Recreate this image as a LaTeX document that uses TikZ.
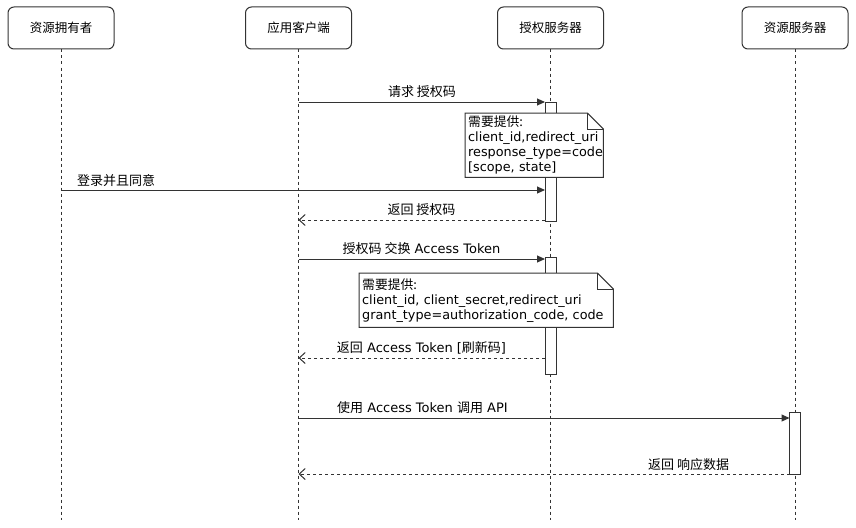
\documentclass[tikz,border=0pt]{standalone}
\usepackage{fontspec}
\setmainfont{DejaVu Sans}
\newfontfamily\cjk{Noto Sans CJK SC}
\usetikzlibrary{arrows.meta,calc}
\definecolor{ln}{HTML}{333333}
\begin{document}
\begin{tikzpicture}[x=1pt,y=-1pt,
  actor/.style={draw=ln, line width=1pt, rounded corners=6pt, fill=white,
    minimum width=106pt, minimum height=42pt, inner sep=0pt,
    font=\cjk\fontsize{12.5}{15}\selectfont},
  life/.style={draw=ln, line width=1pt, dash pattern=on 3pt off 3pt},
  actbar/.style={draw=ln, fill=white, line width=1pt, minimum width=11pt, inner sep=0pt},
  msg/.style={draw=ln, line width=1pt, -{Triangle[length=8pt,width=7pt]}},
  ret/.style={draw=ln, line width=1pt, dash pattern=on 3pt off 3pt,
    -{Straight Barb[length=6pt,width=11pt,line width=1pt]}},
  lbl/.style={inner sep=0pt, font=\fontsize{13}{15}\selectfont, text=black},
  notebox/.style={fill=white, inner xsep=3pt, inner ysep=0pt, align=left,
    font=\fontsize{12.8}{15}\selectfont, text=black, anchor=north west},
]
\useasboundingbox (0,0) rectangle (856,527);

% actors
\node[actor] (ro) at (61,28) {资源拥有者};
\node[actor] (ac) at (298.5,28) {应用客户端};
\node[actor] (as) at (550.5,28) {授权服务器};
\node[actor] (rs) at (795,28) {资源服务器};

% lifelines
\coordinate (roE) at (61,520);
\coordinate (acE) at (298.5,520);
\coordinate (asE) at (550.5,520);
\coordinate (rsE) at (795,520);
\draw[life] (ro.south) -- (roE);
\draw[life] (ac.south) -- (acE);
\draw[life] (as.south) -- (asE);
\draw[life] (rs.south) -- (rsE);

% activation bars
\node[actbar, minimum height=119pt, anchor=north] (b1) at (550.5,102) {};
\node[actbar, minimum height=117pt, anchor=north] (b2) at (550.5,257) {};
\node[actbar, minimum height=62pt, anchor=north] (b3) at (795,412) {};

% message 1
\coordinate (m1s) at (298.5,102); \coordinate (m1e) at (545,102);
\draw[msg] (m1s) -- (m1e);
\node[lbl, anchor=base] (l1) at (422,96) {{\cjk 请求 授权码}};

% note 1
\node[notebox, minimum width=138pt, minimum height=64pt, text width=132pt] (n1) at (465,113)
  {{\cjk 需要提供:}\\client\_id,redirect\_uri\\response\_type=code\\[0pt][scope, state]};
\draw[ln, line width=1pt] (n1.north west) -- ($(n1.north east)+(-16,0)$) -- ($(n1.north east)+(0,16)$)
  -- (n1.south east) -- (n1.south west) -- cycle;
\draw[ln, line width=1pt] ($(n1.north east)+(-16,0)$) -- ($(n1.north east)+(-16,16)$) -- ($(n1.north east)+(0,16)$);

% message 2
\coordinate (m2s) at (61,190); \coordinate (m2e) at (545,190);
\draw[msg] (m2s) -- (m2e);
\node[lbl, anchor=base west] (l2) at (77,185) {{\cjk 登录并且同意}};

% message 3
\coordinate (m3s) at (545,220); \coordinate (m3e) at (298.5,220);
\draw[ret] (m3s) -- (m3e);
\node[lbl, anchor=base] (l3) at (421.5,214) {{\cjk 返回 授权码}};

% message 4
\coordinate (m4s) at (298.5,259); \coordinate (m4e) at (545,259);
\draw[msg] (m4s) -- (m4e);
\node[lbl, anchor=base] (l4) at (421.5,253) {{\cjk 授权码 交换} Access Token};

% note 2
\node[notebox, minimum width=254pt, minimum height=54pt, text width=248pt] (n2) at (359,273)
  {{\cjk 需要提供:}\\client\_id, client\_secret,redirect\_uri\\grant\_type=authorization\_code, code};
\draw[ln, line width=1pt] (n2.north west) -- ($(n2.north east)+(-16,0)$) -- ($(n2.north east)+(0,16)$)
  -- (n2.south east) -- (n2.south west) -- cycle;
\draw[ln, line width=1pt] ($(n2.north east)+(-16,0)$) -- ($(n2.north east)+(-16,16)$) -- ($(n2.north east)+(0,16)$);

% message 5
\coordinate (m5s) at (545,358); \coordinate (m5e) at (298.5,358);
\draw[ret] (m5s) -- (m5e);
\node[lbl, anchor=base] (l5) at (421.5,352) {{\cjk 返回} Access Token [{\cjk 刷新码}]};

% message 6
\coordinate (m6s) at (298.5,418); \coordinate (m6e) at (789.5,418);
\draw[msg] (m6s) -- (m6e);
\node[lbl, anchor=base west] (l6) at (337,412.5) {{\cjk 使用} Access Token {\cjk 调用} API};

% message 7
\coordinate (m7s) at (789.5,474); \coordinate (m7e) at (298.5,474);
\draw[ret] (m7s) -- (m7e);
\node[lbl, anchor=base west] (l7) at (648,469.5) {{\cjk 返回 响应数据}};
\end{tikzpicture}
\end{document}
